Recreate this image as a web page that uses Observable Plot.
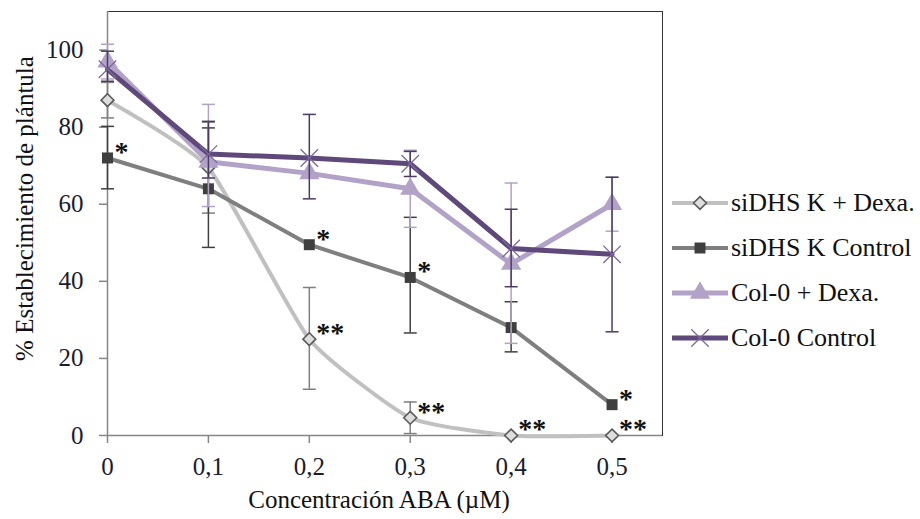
<!DOCTYPE html>
<html><head><meta charset="utf-8">
<script src="https://cdn.jsdelivr.net/npm/d3@7"></script>
<script src="https://cdn.jsdelivr.net/npm/@observablehq/plot@0.6"></script>
<style>
html,body{margin:0;padding:0;background:#fff;}
#chart svg{display:block;}
</style>
</head><body><div id="chart"></div>
<script>
// ---- data ----
const concentrations = [0, 0.1, 0.2, 0.3, 0.4, 0.5];
const xTicks = [0, 0.1, 0.2, 0.3, 0.4, 0.5];
const yTicks = [0, 20, 40, 60, 80, 100];
const seriesNames = ["siDHS K + Dexa.", "siDHS K Control", "Col-0 + Dexa.", "Col-0 Control"];

const siDexa      = [87,   69.5, 25,   4.6,  0,    0];
const siDexaLow   = [82.4, 57.7, 12,   0.5,  0,    0];
const siDexaHigh  = [91.6, 81.3, 38.4, 8.7,  0,    0];

const siCtrl      = [72,   64,   49.5, 41,   28,   8];
const siCtrlLow   = [64,   48.8, 49.5, 26.6, 21.7, 8];
const siCtrlHigh  = [80.2, 79.8, 49.5, 56.6, 34.7, 8];

const colDexa     = [97,   71,   68,   64,   44.5, 60];
const colDexaLow  = [92.5, 59.4, 68,   54,   23.9, 53];
const colDexaHigh = [101.5,85.9, 68,   74,   65.5, 67];

const colCtrl     = [95,   73,   72,   70.5, 48.5, 47];
const colCtrlLow  = [91.9, 66.8, 61.4, 67.2, 38.6, 26.9];
const colCtrlHigh = [99.7, 81.5, 83.3, 73.7, 58.7, 67];

// significance marks
const sigCtrlX = [0, 0.2, 0.3, 0.5];   // "*" on siDHS K Control
const sigDexaX = [0.2, 0.3, 0.4, 0.5]; // "**" on siDHS K + Dexa.
const xTitle = "Concentración ABA (µM)";
const yTitle = "% Establecimiento de plántula";

// ---- build tables ----
const seriesData = [
  [siDexa, siDexaLow, siDexaHigh],
  [siCtrl, siCtrlLow, siCtrlHigh],
  [colDexa, colDexaLow, colDexaHigh],
  [colCtrl, colCtrlLow, colCtrlHigh]
];
const rows = [];
seriesNames.forEach((name, s) => {
  concentrations.forEach((x, i) => {
    rows.push({series: name, x, y: seriesData[s][0][i], low: seriesData[s][1][i], high: seriesData[s][2][i]});
  });
});
const sigRows = [
  ...sigCtrlX.map(x => ({x, y: siCtrl[concentrations.indexOf(x)], label: "*"})),
  ...sigDexaX.map(x => ({x, y: siDexa[concentrations.indexOf(x)], label: "**"}))
];

// ---- styles ----
const look = {
  "siDHS K + Dexa.": {line: "#c0c0c0", width: 4, curve: "cardinal", err: "#7f7f7f", symbol: "diamond2", r: 5.8, fill: "#dedede", mstroke: "#5a5a5a", msw: 1.6},
  "siDHS K Control": {line: "#7f7f7f", width: 4, curve: "linear", err: "#3f3f3f", symbol: "square", r: 6.2, fill: "#3f3f3f", mstroke: "none", msw: 0},
  "Col-0 + Dexa.":   {line: "#b3a2c7", width: 5, curve: "linear", err: "#b3a2c7", symbol: "triangle", r: 7.5, fill: "#b3a2c7", mstroke: "none", msw: 0},
  "Col-0 Control":   {line: "#5f497a", width: 5, curve: "linear", err: "#4b3a63", symbol: "times", r: 8, fill: "none", mstroke: "#7d67a0", msw: 1.3}
};

const capSymbol = {
  draw(ctx, size) {
    const w = Math.sqrt(size / Math.PI);
    ctx.moveTo(-w, 0); ctx.lineTo(w, 0);
  }
};

const fmt = d => d === 0 ? "0" : String(d).replace(".", ",");
const FONT = "'Liberation Serif', 'Times New Roman', serif";

const marks = [
  Plot.frame({stroke: "#333"}),
  Plot.ruleX([0], {stroke: "#868686", strokeWidth: 1.5}),
  Plot.ruleY([0], {stroke: "#868686", strokeWidth: 1.5}),
  Plot.axisX({ticks: xTicks, tickSize: 8, tickPadding: 14, tickFormat: fmt, fontSize: 25, stroke: "#868686", strokeWidth: 1.5, fill: "#1c1c2c", label: null}),
  Plot.axisY({ticks: yTicks, tickSize: 8, tickPadding: 16, fontSize: 25, stroke: "#868686", strokeWidth: 1.5, fill: "#1c1c2c", label: null}),
  Plot.text([xTitle], {frameAnchor: "bottom", dx: -6, dy: 64, lineAnchor: "middle", textAnchor: "middle", fontSize: 25, fill: "#111"}),
  Plot.text([yTitle], {frameAnchor: "left", dx: -83, dy: -15, rotate: -90, lineAnchor: "middle", textAnchor: "middle", fontSize: 25, fill: "#111"})
];

seriesNames.forEach(name => {
  const s = look[name];
  const data = rows.filter(d => d.series === name);
  marks.push(Plot.line(data, {x: "x", y: "y", stroke: s.line, strokeWidth: s.width, curve: s.curve, tension: 0.5}));
  const errs = data.filter(d => d.high > d.low);
  marks.push(Plot.ruleX(errs, {x: "x", y1: "low", y2: "high", stroke: s.err, strokeWidth: 1.5}));
  marks.push(Plot.dot(errs, {x: "x", y: "low", symbol: capSymbol, r: 6.5, stroke: s.err, strokeWidth: 1.5}));
  marks.push(Plot.dot(errs, {x: "x", y: "high", symbol: capSymbol, r: 6.5, stroke: s.err, strokeWidth: 1.5}));
  marks.push(Plot.dot(data, {x: "x", y: "y", symbol: s.symbol, r: s.r, fill: s.fill, stroke: s.mstroke, strokeWidth: s.msw}));
});

marks.push(Plot.text(sigRows, {x: "x", y: "y", text: "label", textAnchor: "start", dx: 7, dy: -6, lineAnchor: "middle", fontSize: 28, fontWeight: "bold", fill: "#111"}));

const chart = Plot.plot({
  width: 920,
  height: 519,
  marginLeft: 107,
  marginRight: 258,
  marginTop: 11,
  marginBottom: 84,
  style: {fontFamily: FONT, fontSize: "25px", background: "white", color: "#111"},
  x: {domain: [0, 0.55]},
  y: {domain: [0, 110]},
  marks
});

// legend on the right
const svg = d3.select(chart);
const symbolMap = {diamond2: d3.symbolDiamond2, square: d3.symbolSquare, triangle: d3.symbolTriangle, times: d3.symbolTimes};
const lg = svg.append("g").attr("font-family", FONT).attr("font-size", 26).attr("fill", "#111").attr("text-anchor", "start");
seriesNames.forEach((name, i) => {
  const s = look[name];
  const y = 203 + i * 45;
  lg.append("line").attr("x1", 672).attr("x2", 728).attr("y1", y).attr("y2", y)
    .attr("stroke", s.line).attr("stroke-width", s.width);
  lg.append("path").attr("transform", `translate(700,${y})`)
    .attr("d", d3.symbol(symbolMap[s.symbol], Math.PI * s.r * s.r)())
    .attr("fill", s.fill).attr("stroke", s.mstroke).attr("stroke-width", s.msw);
  lg.append("text").attr("x", 731).attr("y", y).attr("dy", "0.32em").attr("text-anchor", "start").text(name);
});

document.getElementById("chart").appendChild(chart);
</script>
</body></html>
